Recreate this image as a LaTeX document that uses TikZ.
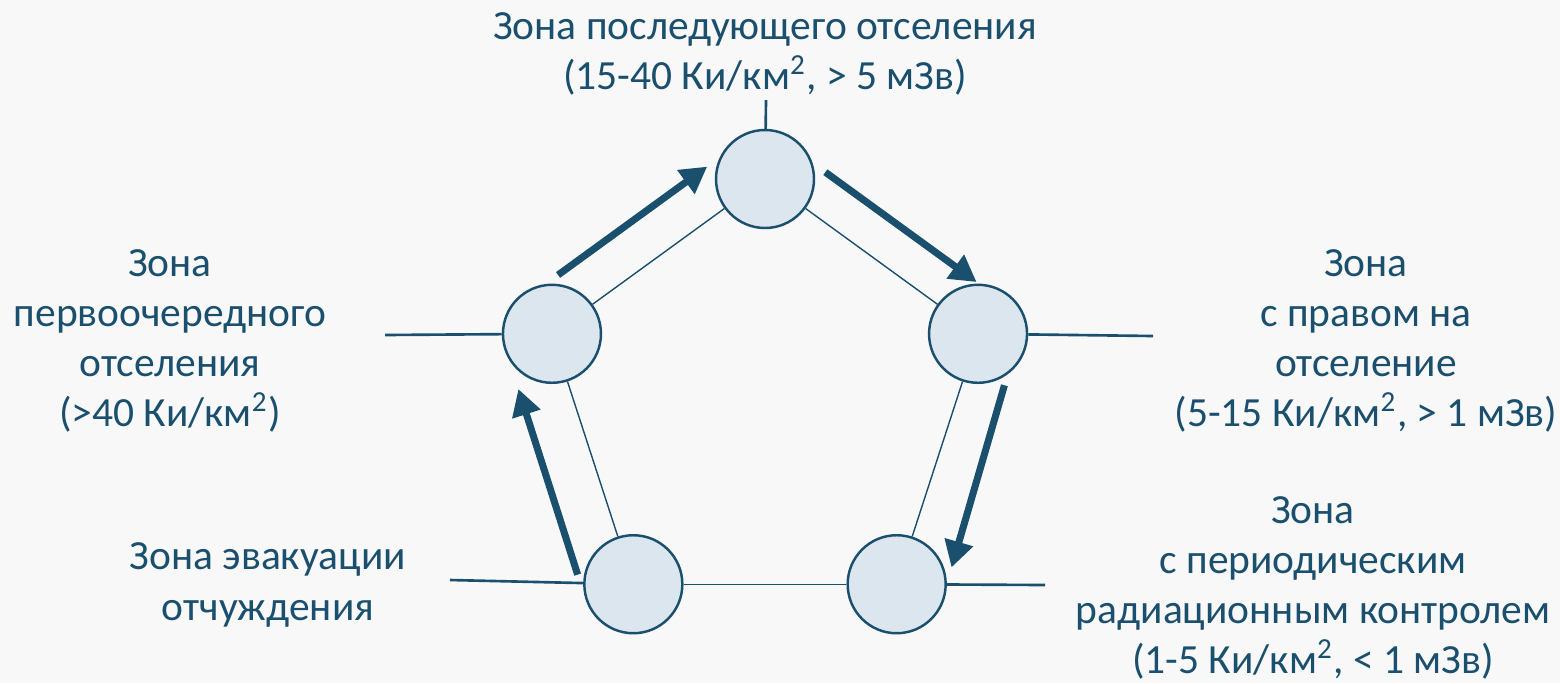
\documentclass[tikz,border=0pt]{standalone}
\usepackage{fontspec}
\setmainfont{Carlito}
\usetikzlibrary{arrows.meta, calc}
\definecolor{zoneblue}{HTML}{1B4F6E}
\definecolor{zonefill}{HTML}{DCE6EE}
\definecolor{pagebg}{HTML}{F8F8F8}
\newcommand{\sqkm}{Ки/км\textsuperscript{2}}
\tikzset{
  zone/.style={circle, draw=zoneblue, line width=0.7pt, fill=zonefill,
               minimum size=0.98cm, inner sep=0pt},
  edge/.style={draw=zoneblue, line width=0.4pt},
  spoke/.style={draw=zoneblue, line width=0.75pt},
  flow/.style={-{Triangle[length=7.5pt, width=8pt]}, line width=2pt,
               draw=zoneblue},
  lbl/.style={text=zoneblue, align=center, inner sep=0pt,
              font=\fontsize{11.8}{14.3}\selectfont},
}

\begin{document}
\begin{tikzpicture}
  \useasboundingbox (0,0) rectangle (15.6,6.83);
  \fill[pagebg] (0,0) rectangle (15.6,6.83);

  %% Pentagon of zones
  \coordinate (c) at (7.65,2.80);
  \node[zone] (t)  at ($(c)+(90:2.24)$)  {};
  \node[zone] (l)  at ($(c)+(162:2.24)$) {};
  \node[zone] (r)  at ($(c)+(18:2.24)$)  {};
  \node[zone] (bl) at ($(c)+(234:2.24)$) {};
  \node[zone] (br) at ($(c)+(306:2.24)$) {};

  \draw[edge] (l) -- (t);
  \draw[edge] (t) -- (r);
  \draw[edge] (r) -- (br);
  \draw[edge] (br) -- (bl);
  \draw[edge] (bl) -- (l);

  %% Spokes to the labels
  \coordinate (tend)  at (7.66,5.83);
  \coordinate (lend)  at (3.85,3.48);
  \coordinate (rend)  at (11.53,3.47);
  \coordinate (blend) at (4.50,1.03);
  \coordinate (brend) at (10.45,0.98);
  \draw[spoke] (t) -- (tend);
  \draw[spoke] (l) -- (lend);
  \draw[spoke] (r) -- (rend);
  \draw[spoke] (bl) -- (blend);
  \draw[spoke] (br) -- (brend);

  %% Flow arrows outside the pentagon
  \draw[flow] ($(bl)!.10!(l)!.50cm!90:(l)$) -- ($(bl)!.84!(l)!.49cm!90:(l)$);
  \draw[flow] ($(l)!.15!(t)!.44cm!90:(t)$) -- ($(l)!.85!(t)!.44cm!90:(t)$);
  \draw[flow] ($(t)!.17!(r)!.41cm!90:(r)$) -- ($(t)!.88!(r)!.41cm!90:(r)$);
  \draw[flow] ($(r)!.155!(br)!.41cm!90:(br)$) -- ($(r)!.875!(br)!.47cm!90:(br)$);

  %% Labels
  \node[lbl] (tlbl) at (7.65,6.29)
    {Зона последующего отселения\\(15-40 \sqkm, > 5 мЗв)};
  \node[lbl] (llbl) at (1.70,3.42)
    {Зона\\первоочередного\\отселения\\(>40 \sqkm)};
  \node[lbl] (rlbl) at (13.66,3.42)
    {Зона\\с правом на\\отселение\\(5-15 \sqkm, > 1 мЗв)};
  \node[lbl] (brlbl) at (13.13,0.95)
    {Зона\\с периодическим\\радиационным контролем\\(1-5 \sqkm, < 1 мЗв)};
  \node[lbl] (bllbl) at (2.68,0.98)
    {Зона эвакуации\\отчуждения};

\end{tikzpicture}
\end{document}
